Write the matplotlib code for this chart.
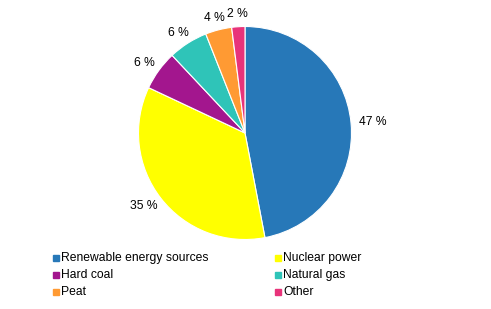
import numpy as np
import matplotlib.pyplot as plt
from matplotlib.lines import Line2D

categories = ["Renewable energy sources", "Nuclear power", "Hard coal", "Natural gas", "Peat", "Other"]
values = [47, 35, 6, 6, 4, 2]
pct_labels = ["47 %", "35 %", "6 %", "6 %", "4 %", "2 %"]
colors = ["#2778b8", "#ffff00", "#a3168e", "#2fc4b8", "#ff9a33", "#e8337a"]

plt.rcParams['font.family'] = ['Liberation Sans', 'DejaVu Sans']

W, H = 491, 309
fig = plt.figure(figsize=(W / 100, H / 100), dpi=100)
cx, cy, r = 245, 133, 106.5
ax = fig.add_axes([(cx - r) / W, (H - cy - r) / H, 2 * r / W, 2 * r / H])
wedges, texts = ax.pie(values, colors=colors, startangle=90, counterclock=False, radius=1,
                       wedgeprops=dict(edgecolor="white", linewidth=0.8))
ax.set_xlim(-1, 1)
ax.set_ylim(-1, 1)
ax.set_aspect("equal")
ax.axis("off")

fs = 8.7
renderer = fig.canvas.get_renderer()
for w, lab in zip(wedges, pct_labels):
    ang = np.deg2rad((w.theta1 + w.theta2) / 2)
    t = ax.text(0, 0, lab, fontsize=fs, ha="center", va="center", color="black")
    bb = t.get_window_extent(renderer)
    hw = bb.width / 2 / r
    hh = bb.height / 2 / r * 0.75
    d = 1.075
    t.set_position((d * np.cos(ang) + hw * np.cos(ang), d * np.sin(ang) + hh * np.sin(ang)))

xs = [56, 278]
y0, dy = 257.7, 17.0
for i, (cat, c) in enumerate(zip(categories, colors)):
    col, row = i % 2, i // 2
    x = xs[col] / W
    y = 1 - (y0 + dy * row) / H
    fig.add_artist(Line2D([x], [y], marker="s", markersize=4.8, color=c, linestyle="none",
                          transform=fig.transFigure))
    fig.text(x + 5 / W, y, cat, fontsize=fs, ha="left", va="center", color="black")

fig.savefig("out.png", dpi=100)
